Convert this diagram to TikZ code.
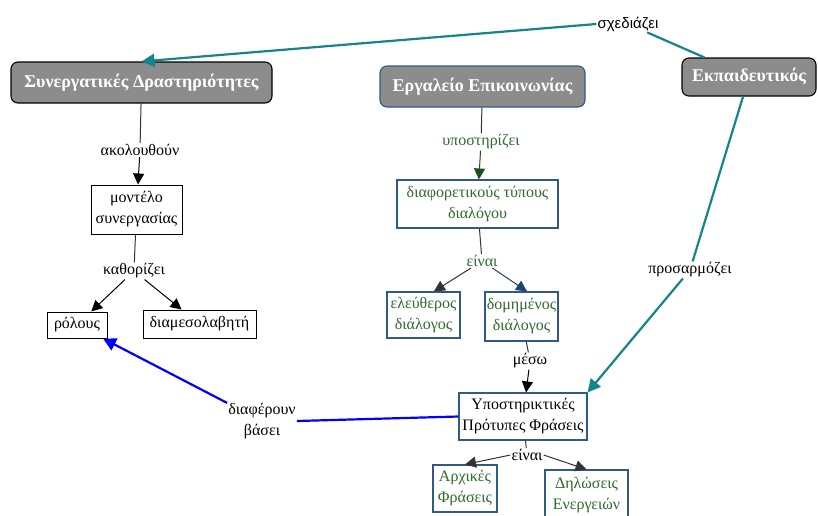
\documentclass[tikz,border=0pt]{standalone}
\usepackage{fontspec}
\setmainfont{Liberation Serif}
\newfontfamily\lsans{Liberation Sans}
\usetikzlibrary{arrows.meta,calc}
\definecolor{boxgray}{HTML}{8C8C8C}
\definecolor{teal2}{HTML}{13868A}
\definecolor{bbord}{HTML}{2F5A8A}
\definecolor{gtext}{HTML}{2E6B2E}
\definecolor{garrow}{HTML}{1F4F1F}
\definecolor{darrow}{HTML}{1E4272}
\definecolor{dline}{HTML}{333333}
\tikzset{
  x=1pt,y=-1pt,
  every node/.style={font=\fontsize{16}{21}\selectfont},
  hubbox/.style={draw=black,line width=1.1pt,fill=boxgray,rounded corners=7pt,text=white,font=\fontsize{18}{20}\selectfont\bfseries,inner sep=0pt},
  plainbox/.style={draw=black,line width=1pt,fill=white,align=center,inner sep=0pt},
  bluebox/.style={draw=bbord,line width=1.1pt,fill=white,align=center,inner sep=0pt,text=gtext},
  lbl/.style={fill=white,inner sep=1pt,align=center},
  tip/.style={-{Triangle[length=11pt,width=11pt]}},
  bigtip/.style={-{Triangle[length=13pt,width=13pt]}},
}
\begin{document}
\begin{tikzpicture}
\useasboundingbox (0,0) rectangle (818,515);
% hub nodes
\node[hubbox,minimum width=261pt,minimum height=41pt] (syn) at (141.5,82.5) {Συνεργατικές Δραστηριότητες};
\node[hubbox,draw=bbord,minimum width=205pt,minimum height=41pt] (erg) at (482.5,86.5) {Εργαλείο Επικοινωνίας};
\node[hubbox,minimum width=134pt,minimum height=38pt] (ekp) at (749,77) {Εκπαιδευτικός};
% left branch
\node[plainbox,minimum width=91pt,minimum height=49pt] (mod) at (136.5,209.5) {μοντέλο\\συνεργασίας};
\node[plainbox,minimum width=60pt,minimum height=26pt] (rol) at (77,325) {ρόλους};
\node[plainbox,minimum width=113pt,minimum height=28pt] (med) at (199.5,324) {διαμεσολαβητή};
% middle branch
\node[bluebox,minimum width=161pt,minimum height=48pt] (dia) at (477.5,204) {διαφορετικούς τύπους\\διαλόγου};
\node[bluebox,minimum width=73pt,minimum height=46pt] (ele) at (423.5,315) {ελεύθερος\\διάλογος};
\node[bluebox,minimum width=73pt,minimum height=49pt] (dom) at (521.5,316.5) {δομημένος\\διάλογος};
\node[bluebox,text=black,minimum width=128pt,minimum height=47pt] (yp) at (523,416.5) {Υποστηρικτικές\\Πρότυπες Φράσεις};
\node[bluebox,minimum width=64pt,minimum height=47pt] (arx) at (465,488.5) {Αρχικές\\Φράσεις};
\node[bluebox,minimum width=83pt,minimum height=50pt] (dil) at (586.5,495) {Δηλώσεις\\Ενεργειών};
% labels
\node[lbl,font=\lsans\fontsize{15}{17}\selectfont] (sx) at (628,24) {σχεδιάζει};
\node[lbl] (ak) at (140,150) {ακολουθούν};
\node[lbl] (ka) at (134,271) {καθορίζει};
\node[lbl,text=gtext] (ypo) at (481,142) {υποστηρίζει};
\node[lbl,text=gtext] (ei1) at (482,261) {είναι};
\node[lbl] (me) at (530,361) {μέσω};
\node[lbl] (ei2) at (527,455) {είναι};
\node[lbl] (pr) at (690,270) {προσαρμόζει};
\node[lbl] (df) at (262,421) {διαφέρουν\\βάσει};
% connectors
\draw[teal2,line width=2.2pt] (ekp) -- (sx);
\draw[teal2,line width=2.2pt,bigtip] (sx.west) -- (syn.north);
\draw[dline,line width=1pt] (syn) -- (ak);
\draw[black,line width=1pt,tip] (ak) -- (mod);
\draw[dline,line width=1pt] (mod) -- (ka);
\draw[black,line width=1pt,tip] (ka) -- (rol);
\draw[black,line width=1pt,tip] (ka) -- (med);
\draw[dline,line width=1pt] (erg) -- (ypo);
\draw[garrow,line width=1pt,tip] (ypo) -- (dia);
\draw[dline,line width=1pt] (dia) -- (ei1);
\draw[dline,line width=1pt,tip] (ei1) -- ($(ele.north)!0.28!(ele.north east)$);
\draw[darrow,line width=1pt,tip] (ei1) -- ($(dom.north)!0.15!(dom.north east)$);
\draw[dline,line width=1pt] (dom) -- (me);
\draw[black,line width=1pt,tip] (me) -- (yp);
\draw[dline,line width=1pt] (yp) -- (ei2);
\draw[dline,line width=1pt,tip] (ei2.west) -- (arx.north);
\draw[dline,line width=1pt,tip] (ei2.east) -- (dil.north);
\draw[teal2,line width=2.2pt] (ekp) -- (pr);
\draw[teal2,line width=2.2pt,bigtip] (pr) -- (yp.north east);
\draw[blue,line width=2.2pt] (yp.west) -- (df.east);
\draw[blue,line width=2.2pt,bigtip] (df) -- (rol);
\end{tikzpicture}
\end{document}
